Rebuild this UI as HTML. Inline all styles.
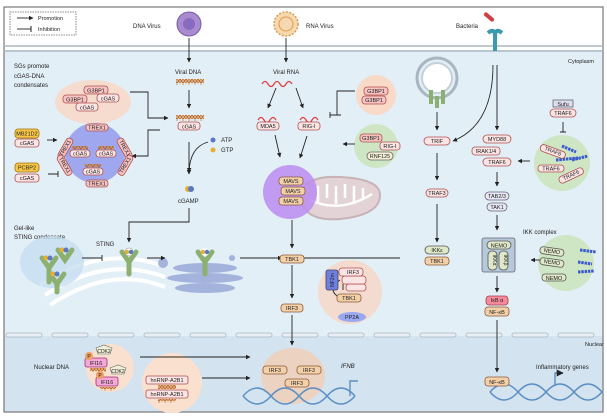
<!DOCTYPE html>
<html><head><meta charset="utf-8"><style>
html,body{margin:0;padding:0;background:#fff}
svg{display:block;font-family:"Liberation Sans",sans-serif}
</style></head><body>
<svg width="607" height="416" viewBox="0 0 607 416" xmlns="http://www.w3.org/2000/svg">
<defs>
<marker id="a" viewBox="0 0 10 10" refX="9" refY="5" markerWidth="5" markerHeight="5" orient="auto"><path d="M0,0L10,5L0,10z" fill="#222"/></marker>
<pattern id="dna" width="6" height="6" patternUnits="userSpaceOnUse"><path d="M0,5L3,1L6,5" stroke="#d08a3a" stroke-width="1.3" fill="none"/><path d="M0,1L3,5L6,1" stroke="#b5602a" stroke-width="1" fill="none"/></pattern>
</defs>
<rect x="0" y="0" width="607" height="416" fill="#fff"/>
<rect x="4" y="50" width="599" height="286" fill="#e3eff7"/>
<rect x="4" y="336" width="599" height="76" fill="#d3e3ef"/>
<rect x="4" y="7" width="599" height="405" fill="none" stroke="#777" stroke-width="1.2"/>
<line x1="4" y1="46" x2="603" y2="46" stroke="#aab8c4" stroke-width="1.5"/>
<line x1="4" y1="51" x2="603" y2="51" stroke="#aab8c4" stroke-width="1.5"/>
<g fill="#e8eef3" stroke="#a9b6c0" stroke-width="0.8">
<rect x="6" y="333" width="36" height="4" rx="2"/><rect x="52" y="333" width="36" height="4" rx="2"/><rect x="98" y="333" width="36" height="4" rx="2"/><rect x="144" y="333" width="36" height="4" rx="2"/><rect x="190" y="333" width="36" height="4" rx="2"/><rect x="236" y="333" width="36" height="4" rx="2"/><rect x="282" y="333" width="36" height="4" rx="2"/><rect x="328" y="333" width="36" height="4" rx="2"/><rect x="374" y="333" width="36" height="4" rx="2"/><rect x="420" y="333" width="36" height="4" rx="2"/><rect x="466" y="333" width="36" height="4" rx="2"/><rect x="512" y="333" width="36" height="4" rx="2"/><rect x="558" y="333" width="36" height="4" rx="2"/>
</g>
<rect x="10" y="12" width="66" height="23" fill="#fff" stroke="#888" stroke-dasharray="1.5,1"/>
<line x1="17" y1="18" x2="33" y2="18" stroke="#222" stroke-width="0.9" marker-end="url(#a)"/>
<line x1="17" y1="29" x2="31" y2="29" stroke="#222" stroke-width="0.9"/><line x1="31" y1="26" x2="31" y2="32" stroke="#222"/>
<g font-size="5.5" fill="#222"><text x="38" y="20">Promotion</text><text x="38" y="31">Inhibition</text></g>
<g font-size="6" fill="#222">
<text x="133" y="28">DNA Virus</text><text x="306" y="28">RNA Virus</text><text x="456" y="28">Bacteria</text>
<text x="568" y="63" font-size="5.5">Cytoplasm</text><text x="585" y="346" font-size="5.5">Nuclear</text>
<text x="14" y="68">SGs promote</text><text x="14" y="78">cGAS-DNA</text><text x="14" y="87">condensates</text>
<text x="175" y="74">Viral DNA</text><text x="273" y="74">Viral RNA</text>
<text x="178" y="203">cGAMP</text><text x="221" y="142">ATP</text><text x="221" y="152">GTP</text>
<text x="14" y="230">Gel-like</text><text x="14" y="239">STING condensate</text><text x="96" y="246">STING</text>
<text x="523" y="234">IKK complex</text><text x="34" y="369">Nuclear DNA</text>
<text x="192" y="382">?</text><text x="536" y="369">Inflammatory genes</text>
<text x="341" y="368" font-style="italic">IFNB</text>
</g>
<circle cx="189" cy="24" r="12" fill="#a98bd0" stroke="#7a5aa8"/><circle cx="189" cy="24" r="6" fill="#8a6ac0"/>
<circle cx="286" cy="24" r="12" fill="#f6d8b0" stroke="#e09a4a" stroke-width="1.5" stroke-dasharray="2,1.5"/><circle cx="286" cy="24" r="7" fill="none" stroke="#e09a4a"/>
<path d="M488,33 q7,-6 7,4 q0,-10 7,-4 M495,37 v14" stroke="#3a9ab0" stroke-width="4" fill="none"/>
<rect x="483" y="15" width="12" height="4" rx="2" fill="#d04040" transform="rotate(40 489 17)"/>
<ellipse cx="93" cy="102" rx="38" ry="22" fill="#f5dccf"/>
<circle cx="95" cy="153" r="30" fill="#9fa8ee"/>
<circle cx="376" cy="95" r="20" fill="#f9d9c8"/>
<circle cx="376" cy="146" r="22" fill="#cfe6c4"/>
<circle cx="562" cy="163" r="28" fill="#cfe6c4"/>
<circle cx="566" cy="263" r="28" fill="#cfe6c4"/>
<circle cx="350" cy="292" r="32" fill="#f3dccf"/>
<circle cx="110" cy="368" r="24" fill="#f9e0cf"/>
<circle cx="172" cy="383" r="30" fill="#f9e0cf"/>
<ellipse cx="293" cy="376" rx="32" ry="28" fill="#ecd2c0"/>
<!-- mitochondrion -->
<path d="M300,195 q5,-20 40,-18 q40,2 40,18 q0,20 -40,24 q-38,3 -40,-24z" fill="#e4d3d6" stroke="#c7b2b6" stroke-width="2"/>
<g stroke="#fff" stroke-width="2.5" fill="none"><path d="M318,186 v18 M327,184 v14 M336,186 v18 M345,184 v14 M354,186 v18 M363,188 v12"/><path d="M310,200 q30,14 62,-6"/></g>
<circle cx="290" cy="192" r="27" fill="#bb8cf0" opacity="0.85"/>
<circle cx="437" cy="78" r="20" fill="none" stroke="#a8b6c2" stroke-width="3"/><circle cx="437" cy="78" r="15" fill="#fff" stroke="#c5d0d8" stroke-width="2"/>
<path d="M431,90 v14 M443,90 v14 M437,96 v12" stroke="#8bb070" stroke-width="4"/>
<rect x="176" y="79" width="28" height="6" fill="url(#dna)"/><rect x="176" y="115" width="28" height="6" fill="url(#dna)"/>
<rect x="72" y="146" width="16" height="4" fill="url(#dna)"/><rect x="98" y="146" width="16" height="4" fill="url(#dna)"/><rect x="85" y="164" width="16" height="4" fill="url(#dna)"/>
<rect x="90" y="368" width="16" height="4" fill="url(#dna)"/><rect x="100" y="387" width="16" height="4" fill="url(#dna)"/><rect x="158" y="385" width="18" height="4" fill="url(#dna)"/><rect x="158" y="399" width="18" height="4" fill="url(#dna)"/>
<path d="M262,84 q3,-5 6,0 t6,0 t6,0 t6,0 t6,0" stroke="#e04040" fill="none" stroke-width="1.3"/>
<path d="M258,120 q3,-5 6,0 t6,0 t6,0 M300,120 q3,-5 6,0 t6,0 t6,0" stroke="#e04040" fill="none" stroke-width="1.3"/>
<g stroke="#5c8fc4" fill="none" stroke-width="1.4">
<path d="M243,396 q14,-16 28,0 t28,0 t28,0 t28,0"/><path d="M243,396 q14,16 28,0 t28,0 t28,0 t28,0"/>
<path d="M490,392 q14,-16 28,0 t28,0 t28,0 t28,0"/><path d="M490,392 q14,16 28,0 t28,0 t28,0 t28,0"/>
<path d="M350,396 v-15 h8 M555,386 v-13 h8" marker-end="url(#a)"/>
</g>
<g fill="none" stroke="#fff" stroke-width="4"><path d="M40,285 q60,-40 120,-20"/><path d="M45,295 q60,-40 120,-18"/><path d="M50,305 q60,-40 115,-18"/></g>
<ellipse cx="52" cy="262" rx="32" ry="26" fill="#c5def0" opacity="0.8"/>
<g fill="#a3b3dc"><ellipse cx="205" cy="268" rx="32" ry="5"/><ellipse cx="205" cy="278" rx="38" ry="5"/><ellipse cx="205" cy="288" rx="30" ry="5"/><circle cx="163" cy="263" r="5"/><circle cx="232" cy="258" r="3"/></g>
<g stroke="#8bb070" stroke-width="5" fill="none" stroke-linecap="round">
<path d="M122,252 l7,10 l7,-10 M129,262 v12"/><path d="M198,252 l7,10 l7,-10 M205,262 v12"/>
<path d="M42,258 l7,10 l7,-10 M49,268 v14"/><path d="M58,250 l7,10 l7,-10"/><path d="M50,274 l7,10 l7,-10 M57,284 v8"/>
</g>
<g><circle cx="129" cy="252" r="4" fill="#fff" stroke="#888" stroke-width=".5"/><circle cx="127" cy="252" r="2.2" fill="#e8b030"/><circle cx="131" cy="252" r="2.2" fill="#5878c8"/>
<circle cx="205" cy="252" r="4" fill="#fff"/><circle cx="203" cy="252" r="2.2" fill="#e8b030"/><circle cx="207" cy="252" r="2.2" fill="#5878c8"/>
<circle cx="188" cy="189" r="3" fill="#e8b030"/><circle cx="191" cy="189" r="3" fill="#5878c8"/>
<circle cx="213" cy="140" r="2.5" fill="#5878c8"/><circle cx="213" cy="150" r="2.5" fill="#e8b030"/>
<circle cx="46" cy="258" r="2.5" fill="#e8b030"/><circle cx="50" cy="258" r="2.5" fill="#5878c8"/><circle cx="62" cy="250" r="2.5" fill="#e8b030"/><circle cx="66" cy="250" r="2.5" fill="#5878c8"/><circle cx="53" cy="274" r="2.5" fill="#e8b030"/><circle cx="57" cy="274" r="2.5" fill="#5878c8"/></g>
<g stroke="#222" stroke-width="0.9" fill="none">
<g marker-end="url(#a)">
<path d="M189,38 V62"/><path d="M189,90 V108"/><path d="M286,38 V62"/>
<path d="M130,92 h18 v26 h20"/><path d="M160,130 h-12 v26 h-16"/><path d="M47,140 h10"/>
<path d="M189,142 V174"/><path d="M208,142 q-18,5 -19,30"/>
<path d="M189,208 v14 h-60 v20"/><path d="M147,258 h18"/><path d="M240,258 h42"/><path d="M400,258 h-100"/>
<path d="M276,88 l-8,20"/><path d="M296,88 l7,20"/><path d="M275,135 l5,22"/><path d="M307,136 l-7,22"/>
<path d="M292,220 V248"/><path d="M292,265 V298"/><path d="M292,315 V345"/>
<path d="M140,357 h110"/><path d="M202,378 h48"/>
<path d="M355,144 h-12"/><path d="M437,112 V130"/><path d="M437,153 V180"/><path d="M437,204 V242"/>
<path d="M493,65 q0,60 -40,76"/><path d="M497,65 V130"/><path d="M530,161 h-12"/><path d="M497,172 V186"/>
<path d="M497,215 V230"/><path d="M545,260 h-14"/><path d="M497,276 V292"/><path d="M497,320 V372"/>
</g>
<path d="M355,91 h-18 v24"/><path d="M341,115 h-11 M330,112 v6"/>
<path d="M48,174 h10 M58,171 v6"/><path d="M82,258 h20 M102,255 v6"/>
<path d="M563,122 v10 M560,132 h6"/>
<path d="M340,280 q-14,10 0,18"/><path d="M343,284 v6"/>
</g>
<!-- blue chains -->
<g stroke="#3a5ad0" stroke-width="3" stroke-dasharray="2.5,0.8" fill="none"><path d="M562,146 l14,6"/><path d="M556,160 l22,-2"/><path d="M572,160 l16,-4"/><path d="M580,250 l16,2"/><path d="M578,262 l14,2"/><path d="M578,272 l16,-1"/></g>
<g font-size="6" text-anchor="middle" stroke-width="0.8">
<g fill="#f6c2c2" stroke="#b05050"><rect x="84" y="86" width="24" height="8" rx="3"/><rect x="63" y="95" width="24" height="8" rx="3"/><rect x="364" y="87" width="24" height="8" rx="3"/><rect x="362" y="96" width="24" height="8" rx="3"/><rect x="360" y="134" width="22" height="8" rx="3"/>
<rect x="86" y="124" width="22" height="7" rx="3"/><rect x="86" y="180" width="22" height="7" rx="3"/>
<rect x="54" y="145" width="22" height="7" rx="3" transform="rotate(-60 65 148)"/><rect x="114" y="145" width="22" height="7" rx="3" transform="rotate(60 125 148)"/>
<rect x="54" y="162" width="22" height="7" rx="3" transform="rotate(60 65 165)"/><rect x="114" y="162" width="22" height="7" rx="3" transform="rotate(-60 125 165)"/></g>
<g fill="#fbe4e4" stroke="#b05050"><rect x="97" y="94" width="22" height="8" rx="3"/><rect x="76" y="103" width="22" height="8" rx="3"/><rect x="178" y="122" width="22" height="8" rx="3"/>
<rect x="70" y="150" width="20" height="7" rx="3"/><rect x="96" y="150" width="20" height="7" rx="3"/><rect x="83" y="168" width="20" height="7" rx="3"/>
<rect x="15" y="139" width="24" height="8" rx="3"/><rect x="15" y="174" width="24" height="8" rx="3"/>
<rect x="257" y="122" width="22" height="8" rx="3"/><rect x="298" y="122" width="22" height="8" rx="3"/><rect x="380" y="142" width="20" height="8" rx="3"/>
<rect x="424" y="137" width="26" height="8" rx="4"/><rect x="426" y="189" width="22" height="8" rx="4"/>
<rect x="483" y="135" width="28" height="8" rx="4"/><rect x="472" y="147" width="28" height="8" rx="3"/><rect x="483" y="158" width="28" height="8" rx="4"/><rect x="550" y="109" width="26" height="8" rx="4"/>
<rect x="540" y="148" width="26" height="7" rx="3" transform="rotate(20 553 151)"/><rect x="538" y="165" width="26" height="7" rx="3"/><rect x="558" y="172" width="26" height="7" rx="3" transform="rotate(-25 571 175)"/>
<rect x="146" y="376" width="42" height="8" rx="2"/><rect x="146" y="390" width="42" height="8" rx="2"/></g>
<g fill="#f3d0a8" stroke="#8a5a3a"><rect x="279" y="177" width="24" height="8" rx="3"/><rect x="281" y="187" width="24" height="8" rx="3"/><rect x="279" y="197" width="24" height="8" rx="3"/>
<rect x="280" y="255" width="24" height="8" rx="3"/><rect x="281" y="304" width="22" height="8" rx="3"/><rect x="425" y="257" width="24" height="8" rx="3"/>
<rect x="337" y="294" width="24" height="8" rx="3"/><rect x="485" y="307" width="24" height="9" rx="3"/><rect x="485" y="377" width="24" height="9" rx="3"/>
<rect x="263" y="366" width="24" height="8" rx="3"/><rect x="297" y="366" width="24" height="8" rx="3"/><rect x="285" y="379" width="24" height="8" rx="3"/></g>
<g fill="#f7c646" stroke="#a07010"><rect x="15" y="129" width="24" height="9" rx="3"/><rect x="15" y="163" width="24" height="9" rx="3"/></g>
<g fill="#f4f0d8" stroke="#666"><rect x="367" y="152" width="26" height="8" rx="4"/></g>
<g fill="#dfe8c8" stroke="#555"><rect x="425" y="246" width="24" height="8" rx="4"/>
<rect x="540" y="248" width="24" height="7" rx="3" transform="rotate(8 552 251)"/><rect x="540" y="259" width="24" height="7" rx="3" transform="rotate(8 552 262)"/><rect x="542" y="274" width="24" height="7" rx="3"/></g>
<rect x="482" y="238" width="33" height="34" fill="#b6c9da" stroke="#667" rx="2"/>
<rect x="487" y="241" width="24" height="8" rx="4" fill="#dfe8c8" stroke="#555"/>
<rect x="488" y="251" width="9" height="19" rx="4" fill="#dfe8c8" stroke="#555"/><rect x="499" y="251" width="9" height="19" rx="4" fill="#dfe8c8" stroke="#555"/>
<g fill="#e8e8f4" stroke="#667"><rect x="485" y="192" width="24" height="8" rx="4"/><rect x="487" y="203" width="20" height="8" rx="4"/><rect x="553" y="100" width="20" height="7" fill="#dde"/></g>
<rect x="486" y="296" width="22" height="9" rx="3" fill="#f58a9a" stroke="#a04050"/>
<rect x="326" y="270" width="12" height="20" rx="2" fill="#6e7fe0" stroke="#445"/><rect x="346" y="284" width="20" height="7" rx="3" fill="#fbe4e4" stroke="#b05050"/><rect x="342" y="276" width="24" height="8" rx="3" fill="#fbe4e4" stroke="#b05050"/><rect x="339" y="268" width="24" height="8" rx="3" fill="#fbe4e4" stroke="#b05050"/>
<ellipse cx="352" cy="317" rx="14" ry="5" fill="#9aa8f0"/>
<g fill="#f3a8d8" stroke="#a03070"><rect x="85" y="358" width="22" height="9" rx="2"/><rect x="96" y="377" width="22" height="9" rx="2"/></g>
<circle cx="89" cy="356" r="4" fill="#f0a060"/><circle cx="100" cy="375" r="4" fill="#f0a060"/>
<path d="M96,348 l8,-3 l8,3 l-2,6 h-12z M110,368 l8,-3 l8,3 l-2,6 h-12z" fill="#f0f0d8" stroke="#666" stroke-width=".6"/>
</g>
<g font-size="5.5" text-anchor="middle" fill="#222">
<text x="96" y="92.5">G3BP1</text><text x="75" y="101.5">G3BP1</text><text x="108" y="100.5">cGAS</text><text x="87" y="109.5">cGAS</text>
<text x="189" y="128.5">cGAS</text><text x="97" y="129.5">TREX1</text><text x="97" y="185.5">TREX1</text>
<text x="65" y="150" transform="rotate(-60 65 148)">TREX1</text><text x="125" y="150" transform="rotate(60 125 148)">TREX1</text>
<text x="65" y="167" transform="rotate(60 65 165)">TREX1</text><text x="125" y="167" transform="rotate(-60 125 165)">TREX1</text>
<text x="80" y="155.5">cGAS</text><text x="106" y="155.5">cGAS</text><text x="93" y="173.5">cGAS</text>
<text x="27" y="135.5">MB21D2</text><text x="27" y="145">cGAS</text><text x="27" y="169.5">PCBP2</text><text x="27" y="180">cGAS</text>
<text x="268" y="128">MDA5</text><text x="309" y="128">RIG-I</text><text x="376" y="93">G3BP1</text><text x="374" y="102">G3BP1</text>
<text x="371" y="140">G3BP1</text><text x="390" y="148">RIG-I</text><text x="380" y="158">RNF125</text>
<text x="291" y="183">MAVS</text><text x="293" y="193">MAVS</text><text x="291" y="203">MAVS</text>
<text x="292" y="261">TBK1</text><text x="292" y="310">IRF3</text><text x="437" y="143">TRIF</text><text x="437" y="195">TRAF3</text>
<text x="437" y="252">IKKε</text><text x="437" y="263">TBK1</text>
<text x="497" y="141">MYD88</text><text x="486" y="153">IRAK1/4</text><text x="497" y="164">TRAF6</text><text x="563" y="106">Sufu</text><text x="563" y="115">TRAF6</text>
<text x="553" y="153" transform="rotate(20 553 151)">TRAF6</text><text x="551" y="170.5">TRAF6</text><text x="571" y="177" transform="rotate(-25 571 175)">TRAF6</text>
<text x="497" y="198">TAB2/3</text><text x="497" y="209">TAK1</text>
<text x="499" y="247.5">NEMO</text><text x="497" y="302">IκB α</text><text x="497" y="314">NF-κB</text><text x="497" y="384">NF-κB</text>
<text x="492" y="260" transform="rotate(90 492.5 260.5)" font-size="5">IKKα</text><text x="503" y="260" transform="rotate(90 503.5 260.5)" font-size="5">IKKβ</text>
<text x="552" y="253" transform="rotate(8 552 251)">NEMO</text><text x="552" y="264" transform="rotate(8 552 262)">NEMO</text><text x="554" y="280">NEMO</text>
<text x="353" y="274">IRF3</text><text x="349" y="300">TBK1</text><text x="352" y="319">PP2A</text>
<text x="332" y="282" transform="rotate(-90 332 280)" font-size="5">NF2m</text>
<text x="96" y="365">IFI16</text><text x="107" y="384">IFI16</text><text x="104" y="353" font-size="5">CDK2</text><text x="118" y="373" font-size="5">CDK2</text>
<text x="89" y="358" font-size="5">P</text><text x="100" y="377" font-size="5">P</text>
<text x="167" y="382">hnRNP-A2B1</text><text x="167" y="396">hnRNP-A2B1</text>
<text x="275" y="372">IRF3</text><text x="309" y="372">IRF3</text><text x="297" y="385">IRF3</text>
</g>
</svg>
</body></html>
